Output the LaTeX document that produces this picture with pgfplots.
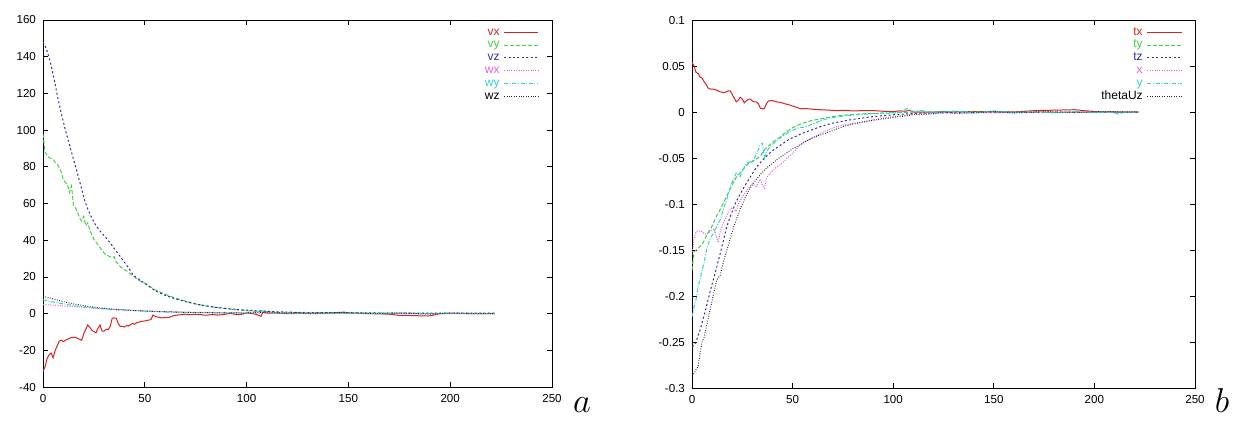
\documentclass[border=0pt]{standalone}
\usepackage{fontspec}
\setmainfont{Liberation Sans}
\usepackage{pgfplots}
\pgfplotsset{compat=1.18}

\definecolor{gpred}{RGB}{215,35,35}
\definecolor{gpgreen}{RGB}{70,205,70}
\definecolor{gpblue}{RGB}{45,45,165}
\definecolor{gpmag}{RGB}{225,95,225}
\definecolor{gpcyan}{RGB}{50,210,210}
\definecolor{gpblack}{RGB}{40,40,40}

\pgfplotsset{
  gp/.style={
    scale only axis,
    xmin=0, xmax=250,
    xtick={0,50,100,150,200,250},
    tick align=inside,
    major tick length=2.5pt,
    tick style={black, line width=0.4pt},
    axis line style={line width=0.5pt},
    ticklabel style={font=\fontsize{5.8}{6}\selectfont},
    /pgf/number format/assume math mode=true,
    scaled y ticks=false,
    legend plot pos=right,
    legend cell align=right,
    legend style={draw=none, fill=none, inner sep=0pt,
      font=\fontsize{6}{6}\selectfont, row sep=0pt, column sep=1.5pt,
      nodes={inner sep=0.6pt, text height=4pt, text depth=1.2pt},
      at={(axis description cs:0.975,0.985)}, anchor=north east},
  },
  l1/.style={gpred, line width=0.5pt},
  l2/.style={gpgreen, line width=0.5pt, dash pattern=on 2pt off 1pt},
  l3/.style={gpblue, line width=0.5pt, dash pattern=on 1pt off 1.2pt},
  l4/.style={gpmag, line width=0.5pt, dash pattern=on 0.5pt off 0.7pt},
  l5/.style={gpcyan, line width=0.5pt, dash pattern=on 2pt off 0.8pt on 0.5pt off 0.8pt},
  l6/.style={gpblack, line width=0.5pt, dash pattern=on 0.4pt off 0.8pt},
}

\begin{document}
\begin{tikzpicture}
\path[use as bounding box] (0,0) rectangle (620pt,212.5pt);

% ---- a ----
\begin{axis}[gp, at={(21.5pt,19pt)}, anchor=south west,
    width=254.5pt, height=183.5pt,
    ymin=-40, ymax=160, ytick={-40,-20,0,20,40,60,80,100,120,140,160}]
\addplot[l1] coordinates {(0,-31.5) (1,-29) (2,-24.5) (3,-22.5) (4,-21.5) (5,-24) (6,-20) (7,-17.5) (8,-15) (9,-14.5) (10,-15.2) (11,-14.5) (12,-14) (13,-13.5) (14,-13) (15,-13) (16,-13) (17,-13.5) (18,-14) (19,-14.5) (20,-11) (21,-8.5) (22,-6.2) (23,-7.5) (24,-9) (25,-9.8) (26,-10.5) (27,-8) (28,-6.2) (29,-9.5) (30,-9.5) (31,-8.5) (32,-8.8) (33,-7) (34,-2.5) (35,-2.3) (36,-2.6) (37,-5.5) (38,-7) (39,-7) (40,-7.3) (41,-6.5) (42,-6.8) (43,-6) (44,-5.3) (45,-5.8) (46,-5) (48,-4.3) (50,-4) (52,-3.5) (53,-3.3) (54,-0.8) (55,-1.5) (56,-1.8) (58,-2.3) (60,-2.2) (62,-2) (64,-1.2) (66,-0.8) (68,-0.5) (70,-0.3) (72,-0.6) (75,-0.4) (78,-0.6) (80,-0.9) (83,-0.5) (86,-0.8) (90,-0.3) (92,0.2) (95,-0.6) (98,-0.3) (100,0.4) (103,0) (105,-0.5) (107,-1.5) (108,0.8) (110,0.3) (115,0.2) (120,0) (130,0.2) (140,0.3) (148,0.8) (150,0.2) (160,0) (170,-0.3) (175,-1) (180,-1) (185,-1.2) (190,-1.2) (193,-0.5) (195,0) (200,0.2) (210,0) (222,0)};
\addlegendentry{\textcolor{gpred}{vx}}
\addplot[l2] coordinates {(0,98) (1,88) (2,86.5) (3,85) (4,84.5) (5,84) (6,82.5) (7,81.5) (8,79.5) (9,77) (10,73) (11,71.5) (12,70.5) (13,66) (14,69.5) (15,59) (16,57.5) (17,55) (18,52) (19,50.5) (20,53) (21,48) (22,49.5) (23,45.5) (24,43) (25,40.5) (26,39) (27,37.5) (28,36) (29,34.5) (30,33) (31,32) (32,31.5) (33,31) (34,30.5) (35,31) (36,28) (37,27) (38,25.5) (40,24) (42,22.5) (44,20.5) (46,19) (48,17.5) (50,16.5) (55,13) (60,10.5) (65,8.5) (70,6.8) (75,5.3) (80,4.2) (85,3.4) (90,2.7) (95,2.1) (100,1.6) (105,1.2) (108,1.8) (110,0.9) (120,0.6) (130,0.4) (150,0.3) (180,0.2) (222,0.1)};
\addlegendentry{\textcolor{gpgreen}{vy}}
\addplot[l3] coordinates {(0,148) (1,146) (2,143) (3,139.5) (4,135) (5,130) (6,125) (7,119) (8,114) (9,109) (10,104.5) (11,100) (12,96) (13,92) (14,88) (15,84) (16,80) (17,76) (18,72) (19,68) (20,63.5) (21,60) (22,57) (24,52) (26,48) (28,45) (30,42.5) (32,40) (34,37) (36,34) (38,31) (40,28) (42,25) (44,21.5) (46,19.5) (48,18) (50,16.5) (55,12.5) (60,10) (65,8) (70,6.5) (75,5.2) (80,4.2) (85,3.4) (90,2.8) (95,2.3) (100,1.9) (105,1.5) (110,1.2) (120,0.8) (130,0.6) (140,0.5) (150,0.4) (170,0.3) (200,0.2) (222,0.2)};
\addlegendentry{\textcolor{gpblue}{vz}}
\addplot[l4] coordinates {(0,5) (5,4.6) (10,4.2) (15,3.8) (20,3.4) (25,3) (30,2.6) (35,2.3) (40,2) (50,1.5) (60,1.1) (70,0.8) (80,0.6) (100,0.3) (130,0.1) (222,0)};
\addlegendentry{\textcolor{gpmag}{wx}}
\addplot[l5] coordinates {(0,7.5) (5,6.3) (10,5.3) (15,4.4) (20,3.7) (25,3.1) (30,2.6) (35,2.2) (40,1.9) (50,1.3) (60,0.9) (70,0.6) (80,0.5) (100,0.3) (109,1.5) (112,0.3) (130,0.2) (160,0.1) (222,0)};
\addlegendentry{\textcolor{gpcyan}{wy}}
\addplot[l6] coordinates {(0,9.5) (5,8) (10,6.5) (15,5.3) (20,4.3) (25,3.5) (30,2.9) (35,2.4) (40,2) (50,1.4) (60,1) (70,0.7) (80,0.5) (100,0.3) (112,0.9) (118,0.2) (125,0.6) (132,-0.2) (140,0.4) (150,0.6) (160,0) (175,0.3) (190,-0.3) (200,0.3) (212,0) (222,0)};
\addlegendentry{\textcolor{black}{wz}}
\end{axis}
\node[anchor=base, font=\fontsize{16}{16}\selectfont] at (291pt,6.5pt) {$a$};

% ---- b ----
\begin{axis}[gp, at={(346pt,18.5pt)}, anchor=south west,
    width=251.5pt, height=184pt,
    ymin=-0.3, ymax=0.1, ytick={-0.3,-0.25,-0.2,-0.15,-0.1,-0.05,0,0.05,0.1},
    yticklabel style={/pgf/number format/fixed, /pgf/number format/precision=2}]
\addplot[l1] coordinates {(0,0.054) (1,0.05) (2,0.043) (3,0.042) (4,0.038) (5,0.037) (6,0.033) (7,0.03) (8,0.026) (9,0.025) (10,0.025) (12,0.024) (14,0.022) (16,0.021) (18,0.023) (19,0.023) (20,0.019) (21,0.015) (22,0.011) (23,0.013) (24,0.016) (25,0.014) (26,0.01) (27,0.012) (28,0.014) (29,0.014) (30,0.012) (31,0.011) (32,0.011) (33,0.009) (34,0.004) (35,0.0035) (36,0.004) (37,0.009) (38,0.012) (40,0.0125) (42,0.011) (44,0.0105) (46,0.009) (48,0.008) (50,0.0065) (52,0.005) (54,0.0035) (56,0.0038) (58,0.0035) (60,0.003) (64,0.0025) (68,0.002) (72,0.0015) (76,0.0018) (80,0.0012) (85,0.0015) (90,0.0016) (95,0.0008) (100,0.0004) (103,0.0012) (106,0.0008) (108,0.0018) (110,0) (120,0) (140,0.0005) (160,0) (170,0.0015) (180,0.002) (190,0.0025) (195,0.0015) (200,0.0005) (210,0) (222,0)};
\addlegendentry{\textcolor{gpred}{tx}}
\addplot[l2] coordinates {(0,-0.172) (1,-0.152) (2,-0.150) (3,-0.148) (4,-0.146) (5,-0.144) (6,-0.14) (7,-0.135) (8,-0.131) (9,-0.128) (10,-0.124) (11,-0.119) (12,-0.114) (14,-0.106) (16,-0.097) (18,-0.088) (20,-0.079) (22,-0.071) (24,-0.066) (26,-0.061) (28,-0.056) (30,-0.054) (32,-0.051) (34,-0.048) (36,-0.041) (38,-0.037) (40,-0.033) (42,-0.03) (44,-0.027) (46,-0.023) (48,-0.02) (50,-0.017) (55,-0.012) (60,-0.009) (65,-0.007) (70,-0.005) (75,-0.0035) (80,-0.0028) (85,-0.002) (90,-0.0015) (100,-0.001) (110,0) (130,0.0005) (150,0) (180,-0.0005) (222,0)};
\addlegendentry{\textcolor{gpgreen}{ty}}
\addplot[l3] coordinates {(0,-0.255) (1,-0.254) (2,-0.25) (3,-0.243) (4,-0.237) (5,-0.229) (6,-0.221) (7,-0.213) (8,-0.204) (9,-0.195) (10,-0.187) (11,-0.179) (12,-0.171) (13,-0.162) (14,-0.154) (15,-0.145) (16,-0.136) (17,-0.127) (18,-0.12) (19,-0.114) (20,-0.108) (22,-0.097) (24,-0.089) (26,-0.081) (28,-0.074) (30,-0.067) (32,-0.06) (34,-0.055) (36,-0.05) (38,-0.046) (40,-0.042) (42,-0.039) (44,-0.036) (46,-0.033) (48,-0.03) (50,-0.028) (55,-0.023) (60,-0.019) (65,-0.015) (70,-0.012) (75,-0.01) (80,-0.008) (85,-0.0065) (90,-0.005) (100,-0.003) (110,-0.0015) (120,-0.001) (150,0) (222,0)};
\addlegendentry{\textcolor{gpblue}{tz}}
\addplot[l4] coordinates {(0,-0.155) (1,-0.138) (2,-0.13) (3,-0.13) (4,-0.129) (5,-0.13) (6,-0.132) (7,-0.133) (8,-0.132) (9,-0.13) (10,-0.128) (11,-0.127) (12,-0.135) (13,-0.142) (14,-0.13) (15,-0.124) (16,-0.118) (17,-0.114) (18,-0.11) (19,-0.106) (20,-0.104) (21,-0.106) (22,-0.108) (23,-0.1) (24,-0.096) (26,-0.089) (28,-0.083) (30,-0.078) (32,-0.081) (33,-0.076) (34,-0.073) (35,-0.08) (36,-0.083) (37,-0.072) (38,-0.069) (40,-0.064) (42,-0.06) (44,-0.057) (46,-0.053) (48,-0.049) (50,-0.045) (52,-0.04) (54,-0.035) (56,-0.032) (58,-0.03) (60,-0.028) (64,-0.023) (68,-0.019) (72,-0.016) (76,-0.014) (80,-0.0125) (85,-0.0105) (90,-0.0085) (95,-0.0065) (100,-0.005) (105,-0.0035) (110,-0.0025) (120,-0.0015) (130,-0.001) (150,-0.001) (180,-0.0005) (222,0)};
\addlegendentry{\textcolor{gpmag}{x}}
\addplot[l5] coordinates {(0,-0.2225) (1,-0.212) (2,-0.204) (3,-0.19) (4,-0.182) (5,-0.172) (6,-0.164) (7,-0.152) (8,-0.144) (9,-0.138) (10,-0.134) (11,-0.131) (12,-0.126) (13,-0.121) (14,-0.117) (15,-0.11) (16,-0.103) (17,-0.097) (18,-0.09) (19,-0.082) (20,-0.076) (21,-0.071) (22,-0.066) (23,-0.068) (24,-0.07) (25,-0.064) (26,-0.06) (27,-0.056) (28,-0.055) (29,-0.054) (30,-0.053) (31,-0.05) (32,-0.046) (33,-0.041) (34,-0.035) (35,-0.034) (36,-0.05) (37,-0.043) (38,-0.04) (40,-0.035) (42,-0.031) (44,-0.028) (46,-0.025) (48,-0.022) (50,-0.02) (52,-0.018) (54,-0.0167) (56,-0.0165) (58,-0.015) (60,-0.013) (64,-0.0095) (68,-0.0068) (72,-0.0055) (76,-0.0042) (80,-0.0033) (85,-0.0025) (90,-0.0018) (95,-0.0012) (100,-0.0007) (104,0) (107,0.004) (109,0.001) (115,0.0015) (120,-0.001) (130,0.001) (140,-0.001) (150,0.0012) (160,-0.0008) (170,0.0005) (180,-0.001) (190,0.0005) (200,-0.0008) (205,0.0005) (212,-0.0022) (216,0) (222,0)};
\addlegendentry{\textcolor{gpcyan}{y}}
\addplot[l6] coordinates {(0,-0.287) (1,-0.284) (2,-0.28) (3,-0.277) (4,-0.262) (5,-0.25) (6,-0.245) (7,-0.235) (8,-0.225) (9,-0.215) (10,-0.205) (11,-0.195) (12,-0.185) (13,-0.18) (14,-0.178) (15,-0.168) (16,-0.16) (17,-0.153) (18,-0.145) (19,-0.137) (20,-0.13) (21,-0.123) (22,-0.117) (24,-0.105) (26,-0.095) (28,-0.086) (30,-0.079) (32,-0.073) (34,-0.068) (36,-0.063) (38,-0.059) (40,-0.056) (42,-0.052) (44,-0.049) (46,-0.046) (48,-0.043) (50,-0.04) (55,-0.034) (60,-0.028) (65,-0.024) (70,-0.02) (75,-0.016) (80,-0.013) (85,-0.011) (90,-0.009) (100,-0.006) (110,-0.003) (120,-0.002) (125,0.0005) (130,-0.0015) (140,-0.001) (150,0.0005) (160,-0.001) (175,0.0005) (190,-0.0005) (205,0.0005) (222,0)};
\addlegendentry{\textcolor{black}{thetaUz}}
\end{axis}
\node[anchor=base, font=\fontsize{16}{16}\selectfont] at (611pt,6.5pt) {$b$};
\end{tikzpicture}
\end{document}
